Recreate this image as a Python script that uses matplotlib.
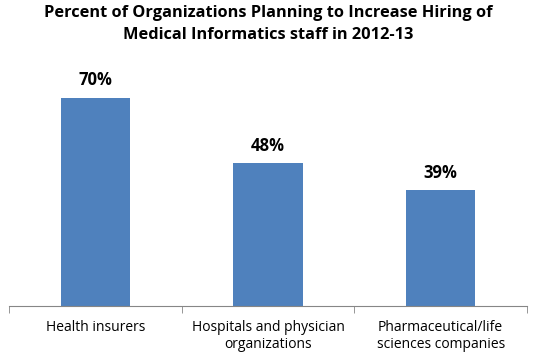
import matplotlib
matplotlib.use('Agg')
import matplotlib.pyplot as plt
import numpy as np

categories = ['Health insurers', 'Hospitals and physician\norganizations',
              'Pharmaceutical/life\nsciences companies']
values = [70, 48, 39]
title = 'Percent of Organizations Planning to Increase Hiring of\nMedical Informatics staff in 2012-13'

plt.rcParams['font.family'] = ['Open Sans', 'DejaVu Sans']

fig = plt.figure(figsize=(5.37, 3.6), dpi=100)
ax = fig.add_axes([9 / 537, 54 / 360, 518 / 537, 238 / 360])

x = np.arange(len(values))
ax.bar(x, values, width=0.4, color='#4F81BD')
for xi, v in zip(x, values):
    ax.text(xi, v + 2.8, f'{v}%', ha='center', va='bottom', fontsize=12, fontweight='bold')

ax.set_xlim(-0.5, len(values) - 0.5)
ax.set_ylim(0, 80)
for s in ['top', 'left', 'right']:
    ax.spines[s].set_visible(False)
ax.spines['bottom'].set_color('#868686')
ax.set_yticks([])

# category labels at centers, boundary ticks at edges
ax.set_xticks(x)
ax.set_xticklabels(categories, fontsize=10)
ax.tick_params(axis='x', length=0, pad=10)
ax.set_xticks(np.arange(len(values) + 1) - 0.5, minor=True)
ax.tick_params(axis='x', which='minor', length=5, color='#868686')

fig.text(0.5, 0.985, title, ha='center', va='top', fontsize=11.8, fontweight='bold',
         linespacing=1.45)

fig.savefig('out.png', dpi=100)
